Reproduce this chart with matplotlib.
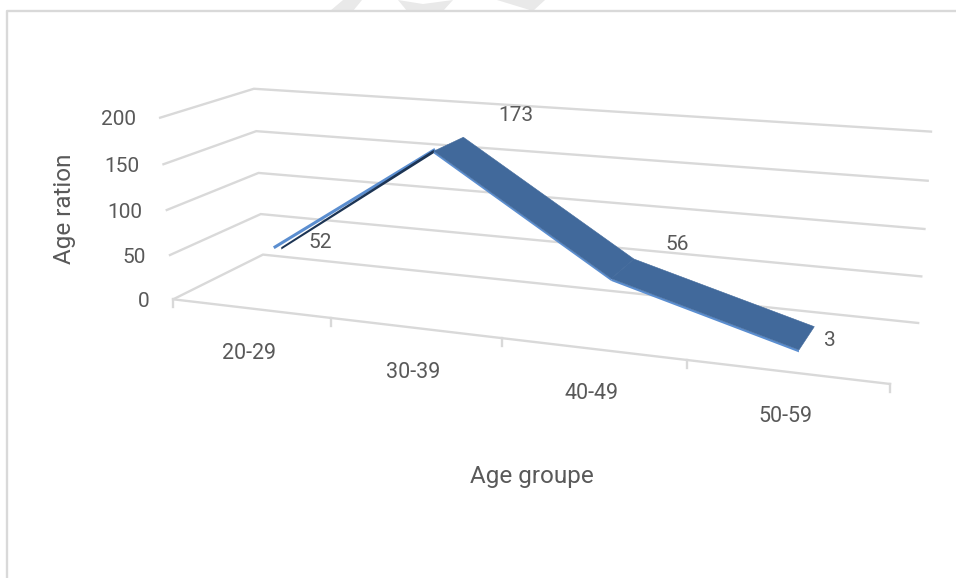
import numpy as np
import matplotlib
matplotlib.use("Agg")
import matplotlib.pyplot as plt
from matplotlib.patches import Polygon

age_groups = ["20-29", "30-39", "40-49", "50-59"]
counts = [52, 173, 56, 3]
value_ticks = [0, 50, 100, 150, 200]

TEXT = "#595959"
GRID = "#d9d9d9"
RIBBON = "#41699b"
RIBBON_EDGE = "#5b8ed0"
RIBBON_DARK = "#1c3454"

plt.rcParams["font.family"] = ["Roboto", "DejaVu Sans"]

# camera of the 3D box: (category, depth, value) -> screen position
box_points = [
    (0, 0, 0, 173, 299), (2, 0, 0, 502, 339), (4, 0, 0, 890, 383),
    (0, 1, 0, 263, 254), (4, 1, 0, 918, 324),
    (0, 0, 200, 160, 118), (0, 1, 200, 254, 89), (4, 1, 200, 931, 131),
]


def fit_camera(points):
    rows = []
    for u, d, v, x, y in points:
        v = v / 200
        rows.append([u, d, v, 1, 0, 0, 0, 0, -x * u, -x * d, -x * v, -x])
        rows.append([0, 0, 0, 0, u, d, v, 1, -y * u, -y * d, -y * v, -y])
    return np.linalg.svd(np.array(rows, dtype=float))[2][-1].reshape(3, 4)


camera = fit_camera(box_points)


def project(u, d, v):
    p = camera @ np.array([u, d, v / 200, 1.0])
    return p[0] / p[2], p[1] / p[2]


fig = plt.figure(figsize=(9.56, 5.78), dpi=100)
ax = fig.add_axes([0, 0, 1, 1])
ax.set_xlim(0, 956)
ax.set_ylim(578, 0)
ax.axis("off")

# page watermark cut off by the chart frame
for shape in [[(330, 11), (343, 0), (362, 0), (353, 11)],
              [(398, 0), (407, 11), (443, 11), (453, 0), (423, 4)],
              [(497, 0), (533, 11), (545, 0)]]:
    ax.add_patch(Polygon(shape, facecolor="#e9e9e9", edgecolor="none"))

# chart frame runs off the right and bottom of the image
ax.plot([7, 7, 956], [578, 11, 11], color=GRID, lw=1.7)

# gridlines on the side and back walls
for value in value_ticks:
    a = project(0, 0, value)
    b = project(0, 1, value)
    c = project(4, 1, value)
    ax.plot([a[0], b[0], c[0]], [a[1], b[1], c[1]], color=GRID, lw=1.7, solid_joinstyle="miter")
    ax.text(a[0] - 24, a[1] + 2, str(value), ha="right", va="center", fontsize=15, color=TEXT)

# floor front edge with tick marks
front_left = project(0, 0, 0)
front_right = project(4, 0, 0)
ax.plot([front_left[0], front_right[0]], [front_left[1], front_right[1]], color=GRID, lw=1.7)
for i in range(5):
    x, y = project(i, 0, 0)
    ax.plot([x, x], [y, y + 8], color=GRID, lw=1.7)

for i, label in enumerate(age_groups):
    x, y = project(i + 0.5, 0, 0)
    ax.text(x - 1, y + 45, label, ha="center", va="center", fontsize=15.5, color=TEXT)

# ribbon line, one quad per segment
depth_front, depth_back = 0.3, 0.7
for i in range(len(counts) - 1):
    u0, u1 = i + 0.5, i + 1.5
    v0, v1 = counts[i], counts[i + 1]
    top = [project(u0, depth_front, v0), project(u1, depth_front, v1),
           project(u1, depth_back, v1), project(u0, depth_back, v0)]
    if v1 > v0:
        # rising part is seen almost edge on, dark underside below a light rim
        side = [project(u0 + 0.04, depth_front, v0 + 1.5), project(u1, depth_front, v1 + 1.5),
                project(u1, depth_front, v1 - 2), project(u0 + 0.04, depth_front, v0 - 1)]
        ax.plot([top[0][0], top[1][0]], [top[0][1] - 1, top[1][1] - 1], color=RIBBON_EDGE, lw=2.2, zorder=4)
        ax.add_patch(Polygon(side, facecolor=RIBBON_DARK, edgecolor="none", zorder=5))
    else:
        side = [project(u0, depth_front, v0), project(u1, depth_front, v1),
                project(u1, depth_front, v1 - 2.5), project(u0, depth_front, v0 - 2.5)]
        ax.add_patch(Polygon(side, facecolor=RIBBON_EDGE, edgecolor="none", zorder=4))
        ax.add_patch(Polygon(top, facecolor=RIBBON, edgecolor=RIBBON, lw=0.4, zorder=5))

# value labels sit just off the ribbon
label_offsets = [(45, -5), (82, -36), (66, -34), (31, -9)]
for i, value in enumerate(counts):
    x, y = project(i + 0.5, depth_front, value)
    ax.text(x + label_offsets[i][0], y + label_offsets[i][1], str(value), ha="center", va="center",
            fontsize=15, color=TEXT, zorder=6)

ax.text(532, 476, "Age groupe", ha="center", va="center", fontsize=17.5, color=TEXT)
ax.text(65, 209, "Age ration", ha="center", va="center", rotation=90, fontsize=17.5, color=TEXT)

fig.savefig("out.png", dpi=100)
